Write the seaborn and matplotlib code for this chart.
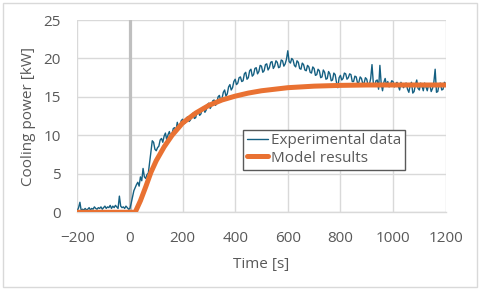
import numpy as np
import pandas as pd
import seaborn as sns
import matplotlib.pyplot as plt
import matplotlib.patches as patches

# ----------------------------------------------------------
# Data
# ----------------------------------------------------------

# Experimental cooling power [kW], sampled every 5 s from -200 s to 1200 s
exp_time = list(range(-200, 1201, 5))
exp_power = [
    # -200 .. -5
    0.2, 0.6, 1.3, 0.2, 0.4, 0.3, 0.5, 0.3, 0.4, 0.6,
    0.3, 0.5, 0.4, 0.7, 0.5, 0.4, 0.6, 0.5, 0.7, 0.4,
    0.6, 0.8, 0.5, 0.7, 0.6, 0.9, 0.5, 0.8, 0.6, 0.9,
    0.7, 0.5, 2.1, 0.8, 0.6, 0.7, 0.5, 0.8, 0.6, 0.4,
    # 0 .. 95
    0.5, 1.2, 2.0, 2.8, 3.2, 3.6, 3.9, 3.4, 4.6, 4.1,
    5.7, 4.6, 4.4, 4.9, 5.1, 6.5, 8.0, 9.3, 9.1, 8.2,
    # 100 .. 195
    8.0, 8.4, 8.6, 9.4, 9.6, 9.1, 9.9, 10.3, 9.4, 10.1,
    10.5, 9.9, 10.2, 10.9, 11.0, 10.6, 11.7, 11.0, 11.2, 11.9,
    # 200 .. 295
    12.1, 11.5, 11.6, 12.3, 12.4, 11.8, 12.0, 12.7, 12.9, 12.2,
    12.3, 13.1, 13.2, 12.6, 12.8, 13.5, 13.7, 13.0, 13.3, 14.0,
    # 300 .. 395
    14.2, 13.5, 13.8, 14.5, 14.6, 13.9, 14.1, 15.0, 15.2, 14.5,
    14.8, 15.6, 15.9, 15.1, 15.4, 16.3, 16.6, 15.9, 16.2, 17.0,
    # 400 .. 495
    17.3, 16.6, 16.8, 17.5, 17.6, 17.0, 17.1, 18.0, 18.2, 17.3,
    17.5, 18.4, 18.6, 17.7, 17.9, 18.7, 18.8, 18.0, 18.3, 19.1,
    # 500 .. 595
    19.0, 18.2, 18.4, 19.2, 19.3, 18.5, 18.8, 19.5, 19.6, 18.7,
    19.0, 19.7, 19.5, 18.8, 18.9, 19.8, 19.7, 19.0, 19.3, 19.9,
    # 600 .. 695
    21.0, 19.6, 19.4, 20.0, 19.8, 19.1, 18.9, 19.7, 19.5, 18.7,
    18.6, 19.4, 19.2, 18.5, 18.4, 19.1, 18.9, 18.2, 18.1, 18.9,
    # 700 .. 795
    18.7, 17.8, 17.9, 18.6, 18.4, 17.5, 17.6, 18.5, 18.2, 17.3,
    17.4, 18.3, 18.0, 17.1, 17.2, 18.1, 17.9, 16.9, 16.2, 17.5,
    # 800 .. 895
    17.8, 17.2, 17.4, 18.1, 18.0, 17.3, 17.5, 18.0, 17.9, 17.0,
    17.0, 17.7, 17.6, 16.8, 16.9, 17.6, 17.4, 16.7, 16.8, 17.5,
    # 900 .. 995
    17.3, 16.5, 16.6, 17.4, 19.2, 16.8, 16.4, 17.1, 17.2, 16.0,
    19.1, 16.7, 15.8, 16.9, 17.4, 16.5, 17.0, 16.3, 16.6, 17.1,
    # 1000 .. 1095
    17.0, 16.3, 16.7, 16.9, 16.4, 15.9, 16.9, 16.5, 16.2, 16.7,
    16.8, 16.0, 15.6, 16.5, 16.9, 15.5, 15.7, 16.6, 17.2, 16.1,
    # 1100 .. 1200
    15.9, 16.8, 16.4, 15.8, 16.8, 16.3, 15.8, 16.6, 16.5, 15.7,
    16.1, 16.9, 18.6, 15.6, 15.7, 16.7, 16.8, 15.9, 16.0, 16.9,
    16.7,
]

# Model results [kW]
model_time = [-200, 0, 20, 40, 60, 80, 100, 130, 160, 200, 250, 300, 350,
              400, 450, 500, 550, 600, 700, 800, 900, 1000, 1200]
model_power = [0.0, 0.0, 0.0, 1.5, 3.3, 5.2, 6.7, 8.5, 10.0, 11.6, 12.9, 13.9, 14.6,
               15.1, 15.5, 15.8, 16.0, 16.2, 16.4, 16.5, 16.55, 16.55, 16.55]

x_ticks = [-200, 0, 200, 400, 600, 800, 1000, 1200]
y_ticks = [0, 5, 10, 15, 20, 25]

# ----------------------------------------------------------
# Plot
# ----------------------------------------------------------

sns.set_theme(style="white")
plt.rcParams['font.family'] = ['Open Sans', 'DejaVu Sans']

text_color = '#595959'
grid_color = '#d9d9d9'

exp_df = pd.DataFrame({"time": exp_time, "power": exp_power})
model_df = pd.DataFrame({"time": model_time, "power": model_power})

fig = plt.figure(figsize=(4.8, 2.9), dpi=100)
ax = fig.add_axes([0.161, 0.268, 0.7675, 0.663])

# Vertical marker at t = 0
ax.axvline(0, color='#bfbfbf', lw=2.3, zorder=1)

sns.lineplot(data=exp_df, x="time", y="power", ax=ax, color='#156082',
             lw=1.0, label="Experimental data", zorder=3)
sns.lineplot(data=model_df, x="time", y="power", ax=ax, color='#E97132',
             lw=3.6, label="Model results", zorder=4)

ax.set_xlim(-200, 1200)
ax.set_ylim(0, 25)
ax.set_xticks(x_ticks)
ax.set_yticks(y_ticks)
ax.grid(True, color=grid_color, lw=1)
ax.set_axisbelow(True)
for side in ['left', 'right', 'top']:
    ax.spines[side].set_visible(False)
ax.spines['bottom'].set_color(grid_color)
ax.spines['bottom'].set_linewidth(1)

ax.tick_params(axis='both', length=0, labelsize=11, colors=text_color)
ax.tick_params(axis='x', pad=13.5)
ax.tick_params(axis='y', pad=12)

ax.set_xlabel("Time [s]", fontsize=11, color=text_color, labelpad=8)
ax.set_ylabel("Cooling power [kW]", fontsize=11, color=text_color, labelpad=5)

leg = ax.legend(loc='upper left', bbox_to_anchor=(0.45, 0.43), borderaxespad=0,
                fontsize=11, frameon=True, fancybox=False, framealpha=1,
                edgecolor=text_color, handlelength=1.4, handletextpad=0.15,
                labelspacing=0.15, borderpad=0.25)
leg.get_frame().set_linewidth(1)
for t in leg.get_texts():
    t.set_color(text_color)

# Light chart frame around the whole figure
fig.patches.append(patches.Rectangle((0.006, 0.012), 0.988, 0.978, transform=fig.transFigure,
                                     fill=False, edgecolor=grid_color, lw=1))

plt.savefig("out.png", dpi=100)
